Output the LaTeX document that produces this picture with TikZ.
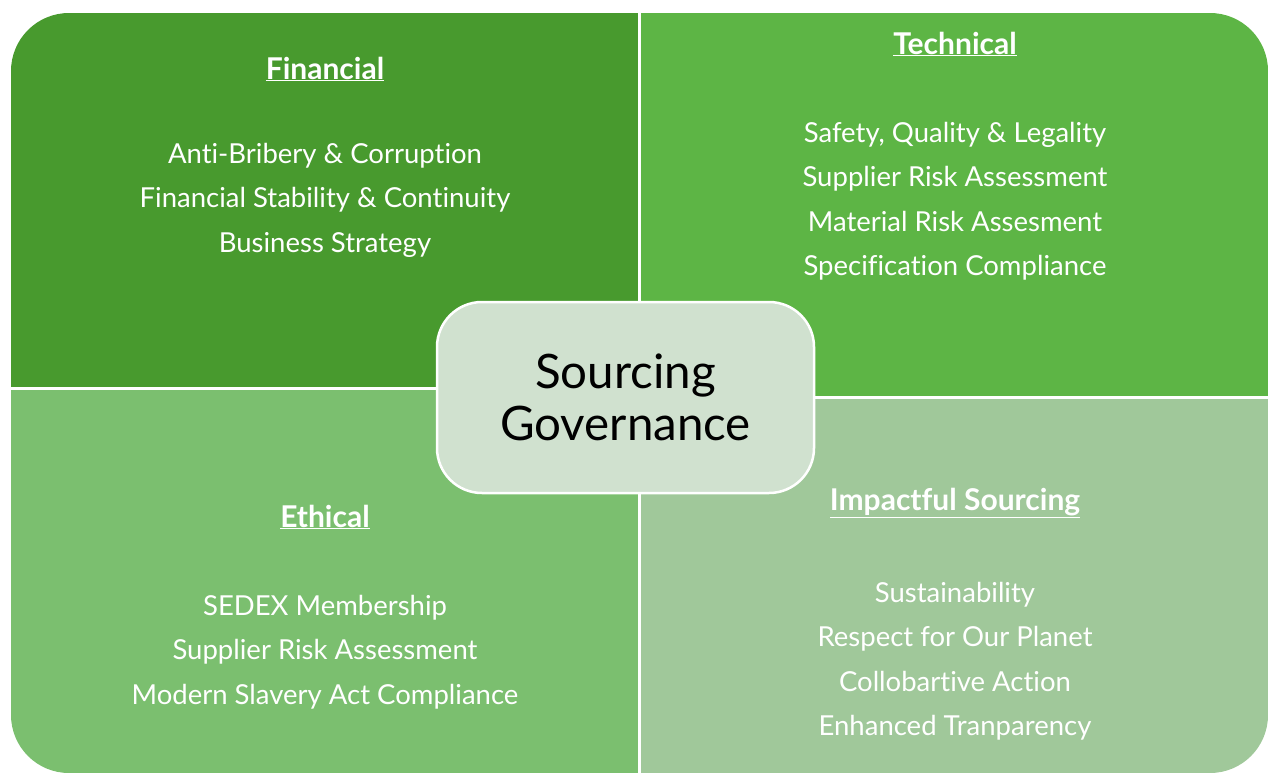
\documentclass[tikz,border=0pt]{standalone}
\usepackage{fontspec}
\setmainfont[Ligatures=NoCommon]{Lato}
\usepackage{tikz}
\definecolor{finGreen}{HTML}{489A2E}
\definecolor{techGreen}{HTML}{5DB545}
\definecolor{ethGreen}{HTML}{7BBF6F}
\definecolor{impGreen}{HTML}{A0C89A}
\definecolor{govGreen}{HTML}{D0E1CF}

\tikzset{
  head/.style={text=white, font=\fontsize{30}{32}\selectfont\bfseries},
  items/.style={text=white, align=center, font=\fontsize{27.5}{44.5}\selectfont},
  centre/.style={draw=white, line width=2.5pt, fill=govGreen, rounded corners=45pt,
    minimum width=377pt, minimum height=191pt, align=center,
    font=\fontsize{47.5}{52}\selectfont},
}

\begin{document}
\begin{tikzpicture}[x=1pt,y=-1pt]
      \useasboundingbox (0,0) rectangle (1268,774);

      % quadrants
      \begin{scope}
        \clip[rounded corners=58pt] (11,13) rectangle (1268,773);
        \fill[finGreen] (11,13) rectangle (638,387);
        \fill[techGreen] (641,13) rectangle (1268,396);
        \fill[ethGreen] (11,390) rectangle (638,773);
        \fill[impGreen] (641,399) rectangle (1268,773);
      \end{scope}

      \node[head] (fin) at (325,69) {\underline{Financial}};
      \node[items] (finList) at (325,200) {Anti-Bribery \& Corruption\\Financial Stability \& Continuity\\Business Strategy};

      \node[head] (tech) at (955,44) {\underline{Technical}};
      \node[items] (techList) at (955,201) {Safety, Quality \& Legality\\Supplier Risk Assessment\\Material Risk Assesment\\Specification Compliance};

      \node[head] (eth) at (325,517) {\underline{Ethical}};
      \node[items] (ethList) at (325,652) {SEDEX Membership\\Supplier Risk Assessment\\Modern Slavery Act Compliance};

      \node[head] (imp) at (955,503) {\underline{Impactful Sourcing}};
      \node[items] (impList) at (955,661) {Sustainability\\Respect for Our Planet\\Collobartive Action\\Enhanced Tranparency};

      \node[centre] (gov) at (625.5,397.5) {Sourcing\\Governance};
    \end{tikzpicture}
\end{document}
